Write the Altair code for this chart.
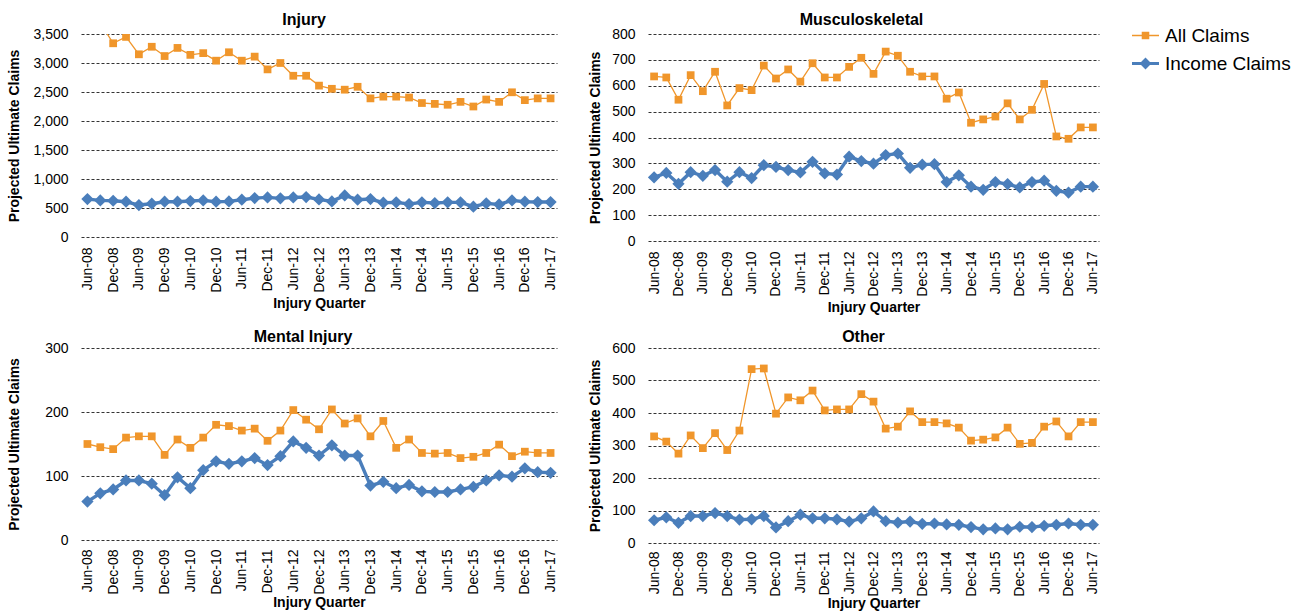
import altair as alt
import pandas as pd

# Injury quarters (x categories) and the subset that gets a tick label
quarters = [
    "Jun-08", "Sep-08", "Dec-08",
    "Mar-09", "Jun-09", "Sep-09", "Dec-09",
    "Mar-10", "Jun-10", "Sep-10", "Dec-10",
    "Mar-11", "Jun-11", "Sep-11", "Dec-11",
    "Mar-12", "Jun-12", "Sep-12", "Dec-12",
    "Mar-13", "Jun-13", "Sep-13", "Dec-13",
    "Mar-14", "Jun-14", "Sep-14", "Dec-14",
    "Mar-15", "Jun-15", "Sep-15", "Dec-15",
    "Mar-16", "Jun-16", "Sep-16", "Dec-16",
    "Mar-17", "Jun-17",
]
tick_labels = [
    "Jun-08", "Dec-08", "Jun-09", "Dec-09", "Jun-10", "Dec-10", "Jun-11",
    "Dec-11", "Jun-12", "Dec-12", "Jun-13", "Dec-13", "Jun-14", "Dec-14",
    "Jun-15", "Dec-15", "Jun-16", "Dec-16", "Jun-17",
]
series = ["All Claims", "Income Claims"]

injury_all = [3750, 3690, 3340, 3450, 3150, 3280, 3120, 3260, 3140, 3170, 3040,
              3185, 3040, 3110, 2890, 3000, 2780, 2780, 2610, 2555, 2540, 2590,
              2390, 2420, 2420, 2405, 2310, 2295, 2280, 2330, 2250, 2370, 2330,
              2495, 2360, 2390, 2390]
injury_income = [654, 631, 625, 608, 551, 574, 608, 608, 620, 631, 608, 614, 643,
                 671, 683, 666, 683, 689, 648, 614, 717, 643, 654, 591, 597, 568,
                 597, 585, 597, 597, 522, 580, 562, 631, 608, 603, 603]

musc_all = [636, 632, 546, 641, 579, 654, 524, 591, 583, 678, 628, 663, 616, 687,
            632, 632, 673, 708, 646, 732, 716, 654, 636, 636, 550, 574, 457, 470,
            481, 532, 470, 507, 607, 404, 395, 439, 439]
musc_income = [246, 263, 221, 266, 252, 274, 229, 266, 243, 293, 286, 274, 265, 306,
               261, 257, 326, 309, 299, 332, 338, 283, 295, 297, 228, 254, 210, 198,
               228, 220, 207, 228, 233, 194, 187, 210, 210]

mental_all = [150, 145, 142, 160, 162, 162, 133, 157, 144, 160, 180, 178, 171, 174,
              155, 171, 203, 188, 173, 204, 182, 190, 162, 186, 144, 157, 136, 135,
              136, 128, 130, 136, 149, 131, 138, 136, 136]
mental_income = [60, 73, 79, 93, 93, 88, 70, 98, 81, 109, 123, 119, 123, 128, 117,
                 131, 154, 144, 132, 148, 132, 132, 85, 91, 81, 86, 76, 75, 75, 79,
                 83, 93, 101, 99, 112, 106, 105]

other_all = [328, 312, 275, 331, 292, 338, 286, 346, 535, 537, 398, 448, 439, 469,
             408, 411, 411, 458, 435, 352, 358, 405, 372, 372, 368, 355, 315, 318,
             325, 355, 305, 308, 358, 374, 328, 372, 372]
other_income = [70, 79, 62, 83, 83, 92, 83, 72, 73, 83, 48, 67, 87, 76, 76, 73, 66,
                76, 97, 67, 63, 66, 59, 60, 57, 56, 49, 42, 45, 42, 50, 49, 53, 56,
                60, 56, 56]

ORANGE = "#F0962B"
BLUE = "#4A7EBB"
FONT = "Liberation Sans"

# legend glyphs: a line segment with the series marker on top
GLYPH_ALL = "M-1,-0.05H1V0.05H-1Z M-0.28,-0.28H0.28V0.28H-0.28Z"
GLYPH_INC = "M-1,-0.12H1V0.12H-1Z M0,-0.44L0.44,0L0,0.44L-0.44,0Z"


def panel(title, all_vals, inc_vals, ymax, ystep, fmt, w, h, label_ext,
          title_pad, title_dx, title_offset, x_label_pad, x_title_pad,
          with_legend=False):
    df = pd.DataFrame({
        "quarter": quarters + quarters,
        "series": [series[0]] * len(quarters) + [series[1]] * len(quarters),
        "value": all_vals + inc_vals,
    })
    x = alt.X(
        "quarter:O", sort=quarters,
        scale=alt.Scale(type="point", padding=0.5),
        axis=alt.Axis(values=tick_labels, labelAngle=-90, labelOverlap=False,
                      domain=False, ticks=False, tickSize=0,
                      labelPadding=x_label_pad, labelFontSize=14,
                      title="Injury Quarter", titlePadding=x_title_pad,
                      titleFontSize=14, titleFontWeight="bold"),
    )
    y = alt.Y(
        "value:Q",
        scale=alt.Scale(domain=[0, ymax], nice=False, zero=True),
        axis=alt.Axis(values=list(range(0, ymax + 1, ystep)),
                      format=fmt, grid=True, gridDash=[3, 2], gridColor="#333333",
                      gridWidth=1, domain=False, ticks=False, tickSize=0,
                      labelPadding=13, labelFontSize=14, minExtent=label_ext,
                      maxExtent=label_ext,
                      title="Projected Ultimate Claims", titlePadding=title_pad,
                      titleFontSize=14, titleFontWeight="bold"),
    )
    base = alt.Chart(df)
    is_all = alt.datum.series == series[0]
    is_inc = alt.datum.series == series[1]
    line_all = base.transform_filter(is_all).mark_line(
        color=ORANGE, strokeWidth=1.3, clip=True).encode(x=x, y=y)
    pts_all = base.transform_filter(is_all).mark_point(
        shape="square", filled=True, size=60, opacity=1, color=ORANGE,
        clip=True).encode(x=x, y=y)
    line_inc = base.transform_filter(is_inc).mark_line(
        color=BLUE, strokeWidth=3.4, clip=True).encode(x=x, y=y)
    pts_inc = base.transform_filter(is_inc).mark_point(
        shape="diamond", filled=True, size=150, opacity=1, color=BLUE,
        clip=True).encode(x=x, y=y)
    layers = [line_all, pts_all, line_inc, pts_inc]
    if with_legend:
        leg = alt.Legend(title=None, orient="none", legendX=1051, legendY=-12,
                         symbolSize=729, symbolStrokeWidth=0, labelFontSize=19,
                         labelFont=FONT, labelColor="#000", labelOffset=6,
                         rowPadding=4, padding=0)
        legend_layer = base.transform_filter("false").mark_point(
            filled=True, opacity=1).encode(
            x=x, y=y,
            color=alt.Color("series:N",
                            scale=alt.Scale(domain=series, range=[ORANGE, BLUE]),
                            legend=leg),
            shape=alt.Shape("series:N",
                            scale=alt.Scale(domain=series, range=[GLYPH_ALL, GLYPH_INC]),
                            legend=leg),
        )
        layers.append(legend_layer)
    return alt.layer(*layers).properties(
        width=w, height=h,
        title=alt.TitleParams(title, fontSize=16, fontWeight="bold", font=FONT,
                              anchor="middle", offset=title_offset, dx=title_dx,
                              color="#000"),
    )


injury = panel("Injury", injury_all, injury_income, 3500, 500, ",d",
               476, 203, 48, 12, -15, -1, 10, 4)
musc = panel("Musculoskeletal", musc_all, musc_income, 800, 100, "d",
             451, 207, 37, 9, -12, -1, 10, 4, with_legend=True)
mental = panel("Mental Injury", mental_all, mental_income, 300, 100, "d",
               476, 192, 48, 12, -16, -4, 9, 1)
other = panel("Other", other_all, other_income, 600, 100, "d",
              451, 195, 37, 9, -10, -4, 8, 0)

chart = alt.concat(injury, musc, mental, other, columns=2).properties(
    bounds="flush",
    align="each",
    spacing={"column": 91, "row": 107},
    padding={"left": 7, "top": 12, "right": 0, "bottom": 0},
    background="white",
).configure_view(stroke=None).configure_axis(
    labelFont=FONT, titleFont=FONT, labelColor="#000", titleColor="#000",
).configure_title(font=FONT)

chart.save("out.html", embed_options={"renderer": "svg", "actions": False})
